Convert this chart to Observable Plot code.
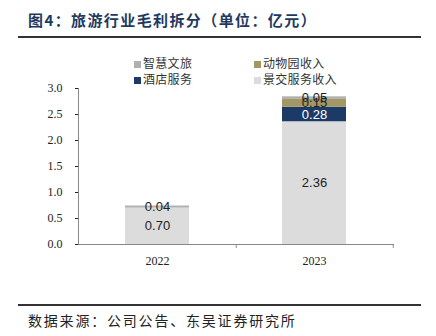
<!DOCTYPE html>
<html><head><meta charset="utf-8">
<script src="https://cdn.jsdelivr.net/npm/d3@7"></script>
<script src="https://cdn.jsdelivr.net/npm/@observablehq/plot@0.6"></script>
<style>
body{margin:0;background:#fff;width:436px;height:336px;position:relative;overflow:hidden;font-family:"Noto Sans CJK SC",sans-serif;}
#title{position:absolute;left:28px;top:9px;font-size:15px;font-weight:bold;color:#1f3a60;letter-spacing:1.4px;}
.hr{position:absolute;left:18px;width:403px;height:2px;background:#333;}
#legend{position:absolute;left:0;top:0;font-size:12px;color:#333;}
.li{position:absolute;white-space:nowrap;line-height:14px;letter-spacing:0.3px;}
.sw{display:inline-block;width:7px;height:7px;margin-right:2px;vertical-align:0px;}
#chart{position:absolute;left:0;top:80px;}
#cap{position:absolute;left:28px;top:310px;font-size:14px;color:#222;letter-spacing:1.8px;}
</style></head>
<body>
<div id="title">图4：旅游行业毛利拆分（单位：亿元）</div>
<div class="hr" style="top:36px"></div>
<div id="legend"></div>
<div id="chart"></div>
<div class="hr" style="top:304px"></div>
<div id="cap">数据来源：公司公告、东吴证券研究所</div>
<script>
const years = ["2022", "2023"];
const seriesNames = ["景交服务收入", "酒店服务", "动物园收入", "智慧文旅"];
const values = {
  "景交服务收入": [0.70, 2.36],
  "酒店服务": [0, 0.28],
  "动物园收入": [0, 0.15],
  "智慧文旅": [0.04, 0.05]
};
const colors = ["#dcdcdc", "#1b3a66", "#a39763", "#b0b0b0"];
const labelColors = ["#222", "#fff", "#222", "#222"];
const yTicks = [0, 0.5, 1.0, 1.5, 2.0, 2.5, 3.0];
const legendOrder = ["智慧文旅", "动物园收入", "酒店服务", "景交服务收入"];

const data = [];
seriesNames.forEach((s, si) => years.forEach((y, yi) => {
  const v = values[s][yi];
  if (v > 0) data.push({year: y, series: s, value: v, si});
}));

// legend
const legendPos = [[134, 56], [254, 56], [134, 72], [254, 72]];
const lg = document.getElementById("legend");
legendOrder.forEach((s, i) => {
  const d = document.createElement("div");
  d.className = "li";
  d.style.left = legendPos[i][0] + "px";
  d.style.top = legendPos[i][1] + "px";
  d.innerHTML = `<span class="sw" style="background:${colors[seriesNames.indexOf(s)]}"></span>${s}`;
  lg.appendChild(d);
});

const stackOpts = {x: "year", y: "value", z: "series", order: seriesNames};
const chart = Plot.plot({
  width: 436,
  height: 200,
  marginTop: 8,
  marginBottom: 36,
  marginLeft: 78,
  marginRight: 43,
  style: {fontFamily: "'Liberation Serif', serif", fontSize: "12px", color: "#222", background: "transparent"},
  x: {domain: years, paddingInner: 0.594, paddingOuter: 0.297, label: null},
  y: {domain: [0, 3], label: null},
  color: {domain: seriesNames, range: colors},
  marks: [
    Plot.barY(data, Plot.stackY({...stackOpts, fill: "series"})),
    Plot.text(data, Plot.stackY({...stackOpts, text: d => d.value.toFixed(2),
      fill: d => labelColors[d.si], fontFamily: "'Liberation Sans', Arial, sans-serif", fontSize: 13})),
    Plot.axisY({ticks: yTicks, tickFormat: d => d.toFixed(1), tickSize: 3, tickPadding: 13, fontSize: 12}),
    Plot.axisX({tickSize: 0, tickPadding: 12, fontSize: 12}),
    Plot.ruleX(years, {x: d => d, y1: 0, y2: -0.075, dx: 78.75, stroke: "#888"}),
    Plot.frame({anchor: "left", stroke: "#888"}),
    Plot.frame({anchor: "bottom", stroke: "#888"})
  ]
});
document.getElementById("chart").appendChild(chart);
</script>
</body></html>
